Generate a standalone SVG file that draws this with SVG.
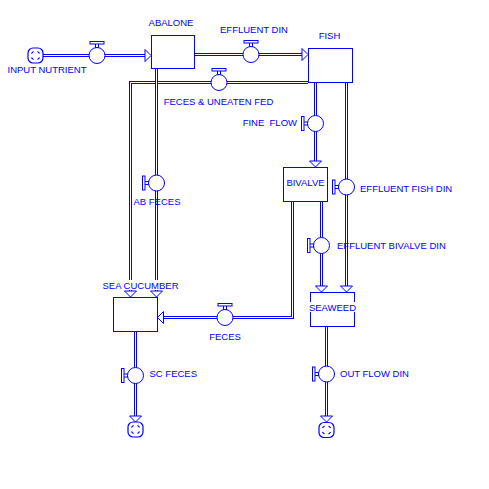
<svg xmlns="http://www.w3.org/2000/svg" width="489" height="489" viewBox="0 0 489 489">
<defs>
<style>
text{font-family:"Liberation Sans",Arial,sans-serif;font-size:9.5px;fill:#0000ff}
.box{fill:#fff;stroke:#0000ff;stroke-width:1}
.po{fill:none;stroke:#0000ff;stroke-width:3;stroke-linejoin:miter}
.pi{fill:none;stroke:#fff;stroke-width:1;stroke-linejoin:miter}
.arr{fill:#fff;stroke:#0000ff;stroke-width:1}
.vc{fill:#fff;stroke:#0000ff;stroke-width:1}
.vh{fill:#fff;stroke:#0000ff;stroke-width:1}
.cl{fill:#fff;stroke:#0000ff;stroke-width:1.2}
.ci{fill:none;stroke:#0000ff;stroke-width:1.2}
</style>
<g id="valveH"><rect class="vh" x="-1.5" y="-12" width="3" height="4"/><rect class="vh" x="-7" y="-14" width="14" height="2.5"/><circle class="vc" cx="0" cy="0" r="8"/></g>
<g id="valveV"><rect class="vh" x="-12" y="-1.5" width="4" height="3"/><rect class="vh" x="-14" y="-7" width="2.5" height="14"/><circle class="vc" cx="0" cy="0" r="8"/></g>
<g id="cloud"><rect class="cl" x="-7.5" y="-7.5" width="15" height="15" rx="5"/><path class="ci" d="M-4 -2 A4.5 4.5 0 0 1 -2 -4 M2 -4 A4.5 4.5 0 0 1 4 -2 M4 2 A4.5 4.5 0 0 1 2 4 M-2 4 A4.5 4.5 0 0 1 -4 2"/></g>
</defs>
<rect width="489" height="489" fill="#fff"/>

<g id="connectors">
<path class="po" d="M43 55.5H145"/><path class="pi" d="M43 55.5H145"/>
<polygon class="arr" points="145,49.5 151,55.5 145,61.5"/>
<path class="po" d="M195 54.5H302"/><path class="pi" d="M195 54.5H302"/>
<polygon class="arr" points="302,48.5 308,54.5 302,60.5"/>
<path class="po" d="M308 82.5H130.5V291"/><path class="pi" d="M308 82.5H130.5V291"/>
<polygon class="arr" points="124.5,291 130.5,297 136.5,291"/>
<path class="po" d="M156.5 69V291"/><path class="pi" d="M156.5 69V291"/>
<polygon class="arr" points="150.5,291 156.5,297 162.5,291"/>
<path class="po" d="M315.5 83V161"/><path class="pi" d="M315.5 83V161"/>
<polygon class="arr" points="309.5,161 315.5,167 321.5,161"/>
<path class="po" d="M346.5 83V286"/><path class="pi" d="M346.5 83V286"/>
<polygon class="arr" points="340.5,286 346.5,292 352.5,286"/>
<path class="po" d="M321.5 202V286"/><path class="pi" d="M321.5 202V286"/>
<polygon class="arr" points="315.5,286 321.5,292 327.5,286"/>
<path class="po" d="M292.5 202V317.5H163.5"/><path class="pi" d="M292.5 202V317.5H163.5"/>
<polygon class="arr" points="163.5,311.5 157.5,317.5 163.5,323.5"/>
<path class="po" d="M135.5 332V416"/><path class="pi" d="M135.5 332V416"/>
<polygon class="arr" points="129.5,416 135.5,422 141.5,416"/>
<path class="po" d="M326.5 327V416"/><path class="pi" d="M326.5 327V416"/>
<polygon class="arr" points="320.5,416 326.5,422 332.5,416"/>
</g>

<g id="abalone"><rect class="box" x="151.5" y="35.5" width="43" height="33"/><text x="171" y="26" text-anchor="middle">ABALONE</text></g>
<g id="fish"><rect class="box" x="308.5" y="48.5" width="44" height="34"/><text x="329.5" y="39" text-anchor="middle">FISH</text></g>
<g id="bivalve"><rect class="box" x="283.5" y="167.5" width="44" height="34"/><text x="305.5" y="185.5" text-anchor="middle">BIVALVE</text></g>
<g id="seaweed"><rect class="box" x="310.5" y="292.5" width="44" height="34"/><rect x="308" y="302" width="48" height="10" fill="#fff"/><text x="332.5" y="310.5" text-anchor="middle">SEAWEED</text></g>
<g id="sea-cucumber"><rect class="box" x="113.5" y="297.5" width="44" height="34"/><rect x="103" y="280" width="75" height="10" fill="#fff"/><text x="140.5" y="288.5" text-anchor="middle">SEA CUCUMBER</text></g>

<g id="input-cloud"><use href="#cloud" x="35.5" y="55.5"/><text x="47" y="73" text-anchor="middle">INPUT NUTRIENT</text></g>
<g id="sc-cloud"><use href="#cloud" x="135.5" y="429.5"/></g>
<g id="out-cloud"><use href="#cloud" x="326.5" y="430"/></g>

<g id="input-nutrient"><use href="#valveH" x="97" y="55.5"/></g>
<g id="effluent-din"><use href="#valveH" x="251" y="54.5"/><text x="254" y="33" text-anchor="middle">EFFLUENT DIN</text></g>
<g id="feces-uneaten-fed"><use href="#valveH" x="219" y="82.5"/><text x="218.5" y="105" text-anchor="middle">FECES &amp; UNEATEN FED</text></g>
<g id="fine-flow"><use href="#valveV" x="315.5" y="123.5"/><text x="297" y="126" text-anchor="end" xml:space="preserve">FINE  FLOW</text></g>
<g id="effluent-fish-din"><use href="#valveV" x="346.5" y="187"/><text x="360" y="192">EFFLUENT FISH DIN</text></g>
<g id="ab-feces"><use href="#valveV" x="156.5" y="183"/><text x="157" y="205" text-anchor="middle">AB FECES</text></g>
<g id="effluent-bivalve-din"><use href="#valveV" x="321.5" y="245.5"/><text x="337" y="249">EFFLUENT BIVALVE DIN</text></g>
<g id="feces"><use href="#valveH" x="225" y="317.5"/><text x="225" y="340" text-anchor="middle">FECES</text></g>
<g id="sc-feces"><use href="#valveV" x="135.5" y="375.5"/><text x="149.5" y="377">SC FECES</text></g>
<g id="out-flow-din"><use href="#valveV" x="326.5" y="374"/><text x="340" y="377">OUT FLOW DIN</text></g>
</svg>
